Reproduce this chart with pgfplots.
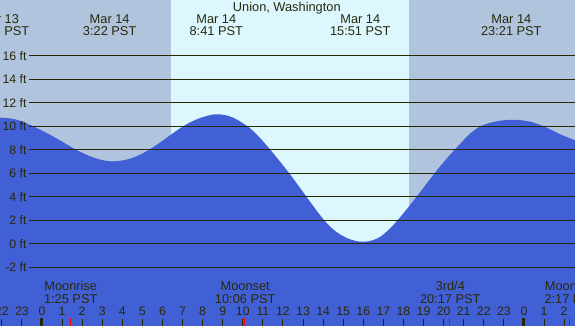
\documentclass[border=0pt]{standalone}
\usepackage{fontspec}
\setmainfont{Liberation Sans}
\usepackage{pgfplots}
\pgfplotsset{compat=1.18}
\usepackage{pgfplotstable}
\definecolor{night}{RGB}{176,196,222}
\definecolor{day}{RGB}{221,247,255}
\definecolor{water}{RGB}{66,96,214}
\definecolor{ink}{RGB}{40,40,10}
\definecolor{rulecol}{RGB}{40,40,0}
\newcommand\lbl{\fontsize{12.8}{12.5}\selectfont}
\newcommand\tlbl{\fontsize{12.3}{12}\selectfont}

\pgfplotstableread{
h ft
-2.30 10.75
-2.09 10.73
-1.59 10.67
-1.10 10.48
-0.60 10.12
-0.10 9.72
0.40 9.28
0.90 8.80
1.39 8.30
1.89 7.84
2.39 7.45
2.89 7.17
3.39 7.02
3.88 7.06
4.38 7.24
4.88 7.58
5.38 8.05
5.88 8.62
6.37 9.22
6.87 9.82
7.37 10.33
7.87 10.70
8.37 10.95
8.70 11.02
9.10 10.96
9.50 10.75
9.86 10.42
10.36 9.83
10.86 9.00
11.35 8.04
11.85 7.00
12.35 5.92
12.85 4.75
13.35 3.58
13.84 2.45
14.34 1.47
14.84 0.80
15.34 0.38
15.84 0.18
16.33 0.24
16.83 0.58
17.33 1.30
17.83 2.25
18.33 3.30
18.83 4.40
19.33 5.52
19.83 6.60
20.33 7.60
20.83 8.52
21.33 9.40
21.83 10.00
22.33 10.30
22.83 10.48
23.33 10.55
23.83 10.52
24.33 10.38
24.83 10.10
25.33 9.72
25.83 9.30
26.33 8.95
26.60 8.75
}\tide

\begin{document}
\begin{tikzpicture}
\useasboundingbox (0,0) rectangle (575pt,326pt);
\clip (0,0) rectangle (575pt,326pt);
\begin{axis}[
  at={(0,0)}, anchor=south west,
  width=575pt, height=326pt, scale only axis,
  xmin=-2.09, xmax=26.54, ymin=-7, ymax=20.75,
  axis line style={draw=none},
  axis background/.style={fill=night},
  axis on top,
  ytick=\empty,
  xtick={-2,...,26},
  xticklabels={22,23,0,1,2,3,4,5,6,7,8,9,10,11,12,13,14,15,16,17,18,19,20,21,22,23,0,1,2},
  xtick pos=left,
  xtick align=inside,
  major tick length=7pt,
  x tick style={rulecol, line width=1pt},
  xticklabel style={anchor=base, yshift=10pt, font=\tlbl, text=ink},
]
% daylight
\addplot[draw=none, fill=day] coordinates {(6.42,-8) (6.42,21) (18.28,21) (18.28,-8)} -- cycle;
% tide
\addplot[draw=none, fill=water, smooth] table[x=h, y=ft] {\tide} -- (axis cs:26.6,-8) -- (axis cs:-2.3,-8) -- cycle;
% level lines
\pgfplotsinvokeforeach{-2,0,...,16}{
  \addplot[rulecol, line width=1pt] coordinates {(-0.65,#1) (26.6,#1)};
  \node[anchor=east, inner sep=0pt, font=\tlbl, text=ink] at (axis cs:-0.76,#1) {#1 ft};
}
% moon event ticks
\addplot[red, line width=1pt] coordinates {(1.42,-7.1) (1.42,-6.3)};
\addplot[red, line width=1pt] coordinates {(10.10,-7.1) (10.10,-6.3)};
\addplot[red, line width=1pt] coordinates {(20.28,-7.1) (20.28,-6.3)};
\addplot[red, line width=1pt] coordinates {(26.28,-7.1) (26.28,-6.3)};
% midnight ticks
\addplot[rulecol, line width=3pt] coordinates {(0,-7.1) (0,-6.35)};
\addplot[rulecol, line width=3pt] coordinates {(24,-7.1) (24,-6.35)};
% title
\node[anchor=base, font=\lbl, text=ink] at (axis cs:12.19,19.73) {Union, Washington};
% extremes
\node[anchor=base, font=\lbl, text=ink] at (axis cs:-2.14,18.71) {Mar 13};
\node[anchor=base, font=\lbl, text=ink] at (axis cs:-2.14,17.69) {21:52 PST};
\node[anchor=base, font=\lbl, text=ink] at (axis cs:3.37,18.71) {Mar 14};
\node[anchor=base, font=\lbl, text=ink] at (axis cs:3.37,17.69) {3:22 PST};
\node[anchor=base, font=\lbl, text=ink] at (axis cs:8.68,18.71) {Mar 14};
\node[anchor=base, font=\lbl, text=ink] at (axis cs:8.68,17.69) {8:41 PST};
\node[anchor=base, font=\lbl, text=ink] at (axis cs:15.85,18.71) {Mar 14};
\node[anchor=base, font=\lbl, text=ink] at (axis cs:15.85,17.69) {15:51 PST};
\node[anchor=base, font=\lbl, text=ink] at (axis cs:23.37,18.71) {Mar 14};
\node[anchor=base, font=\lbl, text=ink] at (axis cs:23.37,17.69) {23:21 PST};
% moon events
\node[anchor=base, font=\lbl, text=ink] at (axis cs:1.43,-3.99) {Moonrise};
\node[anchor=base, font=\lbl, text=ink] at (axis cs:1.43,-5.06) {1:25 PST};
\node[anchor=base, font=\lbl, text=ink] at (axis cs:10.12,-3.99) {Moonset};
\node[anchor=base, font=\lbl, text=ink] at (axis cs:10.12,-5.06) {10:06 PST};
\node[anchor=base, font=\lbl, text=ink] at (axis cs:20.33,-3.99) {3rd/4};
\node[anchor=base, font=\lbl, text=ink] at (axis cs:20.33,-5.06) {20:17 PST};
\node[anchor=base, font=\lbl, text=ink] at (axis cs:26.35,-3.99) {Moonrise};
\node[anchor=base, font=\lbl, text=ink] at (axis cs:26.35,-5.06) {2:17 PST};
\end{axis}
\end{tikzpicture}
\end{document}
